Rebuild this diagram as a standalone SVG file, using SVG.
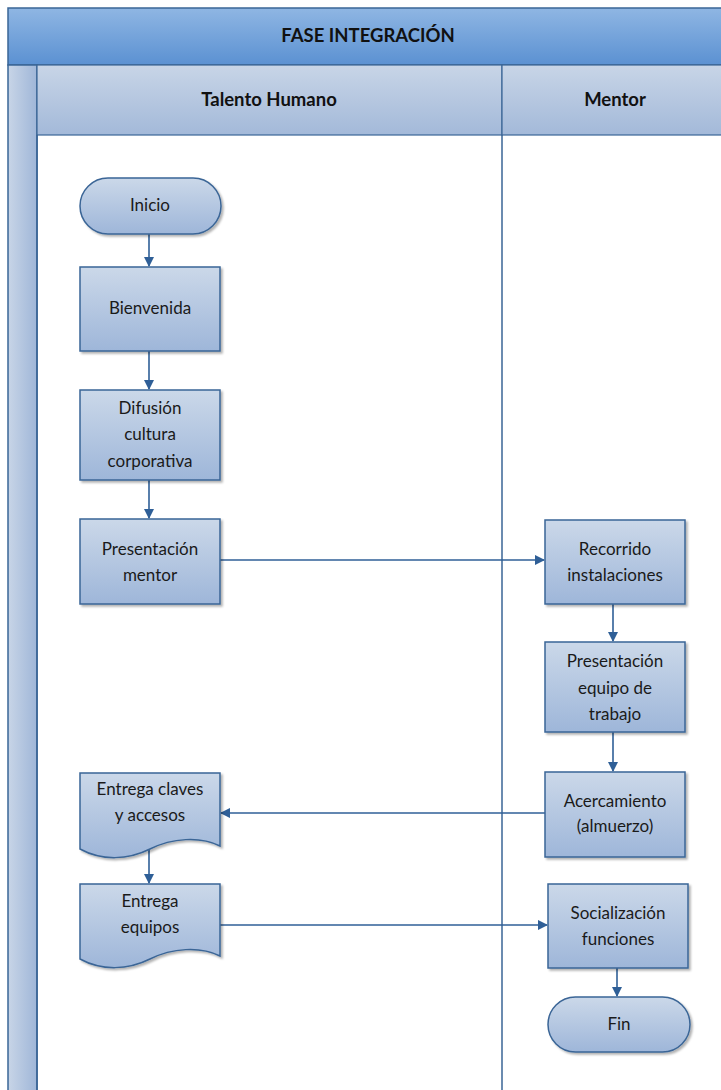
<svg xmlns="http://www.w3.org/2000/svg" width="721" height="1090" viewBox="0 0 721 1090">
<defs>
<linearGradient id="gTitle" x1="0" y1="0" x2="0" y2="1"><stop offset="0" stop-color="#8fb6e3"/><stop offset="1" stop-color="#5b91d2"/></linearGradient>
<linearGradient id="gHead" x1="0" y1="0" x2="0" y2="1"><stop offset="0" stop-color="#c8d5e7"/><stop offset="1" stop-color="#a3b9d9"/></linearGradient>
<linearGradient id="gStrip" x1="0" y1="0" x2="1" y2="0"><stop offset="0" stop-color="#c8d5e7"/><stop offset="1" stop-color="#9fb6d8"/></linearGradient>
<linearGradient id="gNode" x1="0" y1="0" x2="0" y2="1"><stop offset="0" stop-color="#cbd8e9"/><stop offset="1" stop-color="#9eb6d9"/></linearGradient>
<filter id="sh" x="-10%" y="-10%" width="130%" height="130%"><feDropShadow dx="2" dy="2" stdDeviation="1.2" flood-color="#000" flood-opacity="0.3"/></filter>
<marker id="arr" viewBox="0 0 10 10" refX="9" refY="5" markerWidth="6.5" markerHeight="6.5" orient="auto"><path d="M0,0 L10,5 L0,10 Z" fill="#2f5f97"/></marker>
<style>
.node{fill:url(#gNode);stroke:#3a6596;stroke-width:1.5;filter:url(#sh)}
.t{font-family:Lato,"Liberation Sans",sans-serif;font-size:17px;fill:#1a1a1a;text-anchor:middle}
.h{font-family:Lato,"Liberation Sans",sans-serif;font-size:18.5px;font-weight:bold;fill:#111;text-anchor:middle}
.c{fill:none;stroke:#2f5f97;stroke-width:1.6;marker-end:url(#arr)}
.ln{stroke:#3a6596;stroke-width:1.5;fill:none}
</style>
</defs>
<rect width="721" height="1090" fill="#fff"/>
<g id="pool">
<rect x="8" y="8" width="720" height="57" fill="url(#gTitle)" stroke="#3a6596" stroke-width="1.5"/>
<text class="h" x="368" y="42">FASE INTEGRACIÓN</text>
<rect x="8" y="65" width="29" height="1030" fill="url(#gStrip)" stroke="#3a6596" stroke-width="1.5"/>
<rect x="37" y="65" width="465" height="70" fill="url(#gHead)" stroke="#3a6596" stroke-width="1.2"/>
<rect x="502" y="65" width="226" height="70" fill="url(#gHead)" stroke="#3a6596" stroke-width="1.2"/>
<text class="h" x="269" y="106">Talento Humano</text>
<text class="h" x="615" y="106">Mentor</text>
<line class="ln" x1="502" y1="135" x2="502" y2="1090" stroke-width="1.2"/>
<line class="ln" x1="37" y1="135" x2="37" y2="1090" stroke-width="1.2"/>
</g>
<g id="connectors">
<path class="c" d="M149,234 V266"/>
<path class="c" d="M149,351 V389"/>
<path class="c" d="M149,480 V518"/>
<path class="c" d="M220,560 H544"/>
<path class="c" d="M613,604 V641"/>
<path class="c" d="M613,732 V771"/>
<path class="c" d="M545,813 H221"/>
<path class="c" d="M149,850 V883"/>
<path class="c" d="M220,925 H547"/>
<path class="c" d="M617,968 V996"/>
</g>
<g id="inicio"><rect class="node" x="80" y="178" width="141" height="56" rx="28"/><text class="t" x="150" y="211">Inicio</text></g>
<g id="bienvenida"><rect class="node" x="80" y="267" width="140" height="84"/><text class="t" x="150" y="314">Bienvenida</text></g>
<g id="difusion"><rect class="node" x="80" y="390" width="140" height="90"/><text class="t" x="150" y="414">Difusión</text><text class="t" x="150" y="440">cultura</text><text class="t" x="150" y="467">corporativa</text></g>
<g id="presentacion-mentor"><rect class="node" x="80" y="519" width="140" height="85"/><text class="t" x="150" y="555">Presentación</text><text class="t" x="150" y="581">mentor</text></g>
<g id="recorrido"><rect class="node" x="545" y="520" width="140" height="84"/><text class="t" x="615" y="555">Recorrido</text><text class="t" x="615" y="581">instalaciones</text></g>
<g id="presentacion-equipo"><rect class="node" x="545" y="642" width="140" height="90"/><text class="t" x="615" y="667">Presentación</text><text class="t" x="615" y="694">equipo de</text><text class="t" x="615" y="720">trabajo</text></g>
<g id="acercamiento"><rect class="node" x="545" y="772" width="140" height="85"/><text class="t" x="615" y="807">Acercamiento</text><text class="t" x="615" y="832">(almuerzo)</text></g>
<g id="entrega-claves"><path class="node" d="M80,773 H220 V846 C200,836 172,838 150,849 C128,860 102,861 80,849 Z"/><text class="t" x="150" y="795">Entrega claves</text><text class="t" x="150" y="821">y accesos</text></g>
<g id="entrega-equipos"><path class="node" d="M80,884 H220 V956 C200,946 172,948 150,959 C128,970 102,971 80,959 Z"/><text class="t" x="150" y="907">Entrega</text><text class="t" x="150" y="933">equipos</text></g>
<g id="socializacion"><rect class="node" x="548" y="884" width="140" height="84"/><text class="t" x="618" y="919">Socialización</text><text class="t" x="618" y="945">funciones</text></g>
<g id="fin"><rect class="node" x="548" y="997" width="142" height="55" rx="27.5"/><text class="t" x="619" y="1030">Fin</text></g>
</svg>
